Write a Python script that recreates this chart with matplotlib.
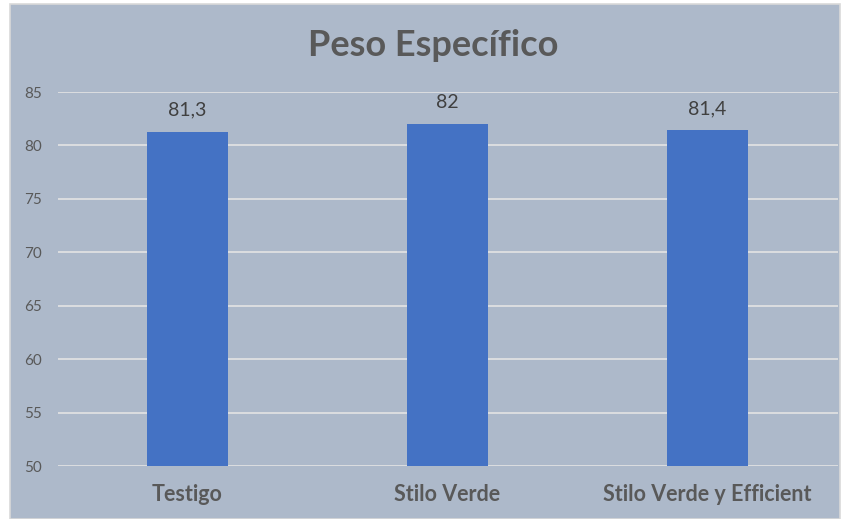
import matplotlib.pyplot as plt
from matplotlib.patches import Rectangle

# datos
categorias = ['Testigo', 'Stilo Verde', 'Stilo Verde y Efficient']
valores = [81.3, 82, 81.4]
etiquetas = ['81,3', '82', '81,4']
ticks_y = [50, 55, 60, 65, 70, 75, 80, 85]

fondo = '#ADB9CA'
azul = '#4472C4'
gris = '#595959'

plt.rcParams['font.family'] = ['Lato', 'DejaVu Sans']

fig = plt.figure(figsize=(8.41, 5.19), dpi=100)
fig.patch.set_facecolor('white')

# marco del grafico
fig.patches.append(Rectangle((10 / 841, 0), 830 / 841, 515 / 519, transform=fig.transFigure,
                             facecolor=fondo, edgecolor='#D9D9D9', linewidth=1.2, zorder=-5))

ax = fig.add_axes([57.5 / 841, 1 - 466 / 519, 780 / 841, (466 - 92) / 519])
ax.set_facecolor('none')

x = range(len(categorias))
barras = ax.bar(x, valores, width=0.31, color=azul, zorder=3)

for xi, v, t in zip(x, valores, etiquetas):
    ax.text(xi, v + 1.2, t, ha='center', va='bottom', fontsize=14, color='#404040')

ax.set_ylim(50, 85)
ax.set_xlim(-0.5, 2.5)
ax.set_yticks(ticks_y)
ax.set_yticklabels([str(t) for t in ticks_y], fontsize=11, color=gris)
ax.set_xticks(list(x))
ax.set_xticklabels(categorias, fontsize=15.5, fontweight='bold', color=gris)
ax.tick_params(axis='both', length=0)
ax.tick_params(axis='y', pad=11)
ax.tick_params(axis='x', pad=13)

ax.grid(axis='y', color='#E4E4E4', linewidth=1.2, zorder=0)
for s in ax.spines.values():
    s.set_visible(False)

fig.text(433 / 841, 1 - 45 / 519, 'Peso Específico', ha='center', va='center',
         fontsize=26, fontweight='bold', color=gris)

fig.savefig('out.png', dpi=100, facecolor=fig.get_facecolor())
